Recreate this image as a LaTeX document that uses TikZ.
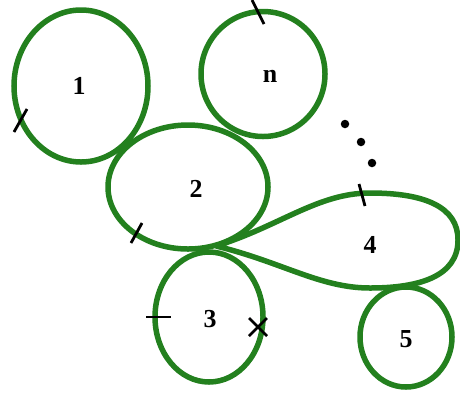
\documentclass[tikz,border=0pt]{standalone}
\usepackage{fontspec}
\setmainfont{Liberation Serif}
\usetikzlibrary{shapes.geometric}
\definecolor{loopgreen}{RGB}{35,128,30}
\tikzset{
  loopring/.style={ellipse,draw=loopgreen,line width=5.5bp,inner sep=0pt},
  looplabel/.style={font=\bfseries\fontsize{26}{28}\selectfont,text=black},
  tickmark/.style={draw=black,line width=2.8bp},
  dotmark/.style={circle,fill=black,inner sep=0pt,minimum size=8.5bp}
}
\begin{document}
\begin{tikzpicture}[x=1bp,y=-1bp]
\useasboundingbox (0,0) rectangle (460,396);
% rings
\node[loopring,minimum width=134bp,minimum height=152bp] (c1) at (81,86) {};
\node[loopring,minimum width=124bp,minimum height=125bp] (cn) at (263,74) {};
\node[loopring,minimum width=160bp,minimum height=124bp] (c2) at (188,187) {};
\node[loopring,minimum width=108bp,minimum height=130bp] (c3) at (209,317) {};
\node[loopring,minimum width=92bp,minimum height=100bp] (c5) at (406,337) {};
% teardrop loop 4
\coordinate (p) at (216,246);
\draw[loopgreen,line width=5.5bp,line join=round]
  (p) .. controls (280,226) and (318,193) .. (370,193)
      .. controls (425,193) and (458,207) .. (458,240)
      .. controls (458,276) and (420,288) .. (370,288)
      .. controls (320,288) and (282,262) .. (p);
% labels
\node[looplabel] (l1) at (79,86) {1};
\node[looplabel] (ln) at (270,76) {n};
\node[looplabel] (l2) at (196,189) {2};
\node[looplabel] (l3) at (210,319) {3};
\node[looplabel] (l4) at (370,245) {4};
\node[looplabel] (l5) at (406,339) {5};
% ticks
\draw[tickmark] (14,132) -- (27,109);
\draw[tickmark] (252,0) -- (264,24);
\draw[tickmark] (131,243) -- (142,223);
\draw[tickmark] (359,184) -- (365,206);
\draw[tickmark] (146,317) -- (171,317);
\draw[tickmark] (249,318) -- (267,336);
\draw[tickmark] (249,336) -- (267,318);
% dots
\node[dotmark] (d1) at (345,124) {};
\node[dotmark] (d2) at (361,142) {};
\node[dotmark] (d3) at (372,163) {};
\end{tikzpicture}
\end{document}
